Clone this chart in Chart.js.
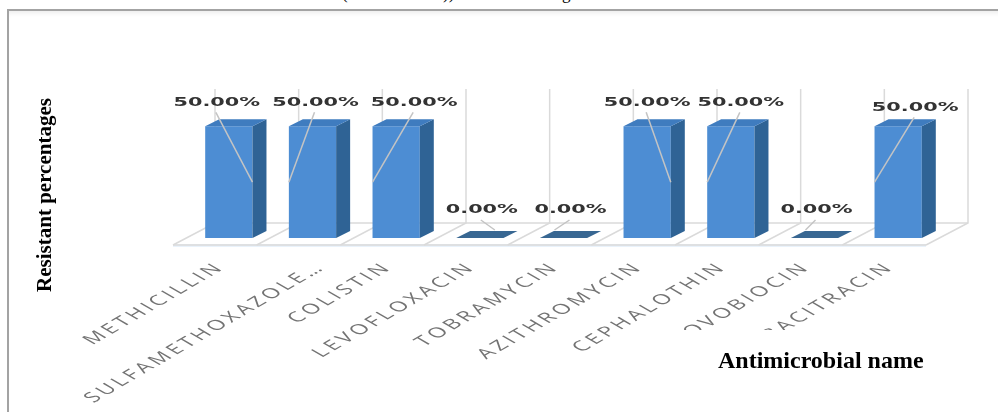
<!DOCTYPE html>
<html>
<head>
<meta charset="utf-8">
<script src="https://cdn.jsdelivr.net/npm/chart.js@4.4.0/dist/chart.umd.min.js"></script>
<style>
  html, body { margin: 0; padding: 0; background: #fff; overflow: hidden; }
  #page { position: relative; width: 998px; height: 412px; overflow: hidden; }
  #frame {
    position: absolute; left: 7px; top: 9px; width: 1100px; height: 500px;
    border-left: 2px solid #a3a3a3; border-top: 2px solid #a3a3a3;
    box-shadow: inset 0 5px 5px -3px #ececec;
  }
  .above { position: absolute; top: -15px; font: 17px "Liberation Serif"; line-height: 17px; color: #000; }
  canvas { position: absolute; left: 0; top: 0; }
</style>
</head>
<body>
<div id="page">
  <span class="above" style="left:342px">(</span>
  <span class="above" style="left:443px">))</span>
  <span class="above" style="left:562px">g</span>
  <div id="frame"></div>
  <canvas id="chart" width="998" height="412"></canvas>
</div>
<script>
const categories = ['METHICILLIN', 'SULFAMETHOXAZOLE…', 'COLISTIN', 'LEVOFLOXACIN', 'TOBRAMYCIN',
    'AZITHROMYCIN', 'CEPHALOTHIN', 'NOVOBIOCIN', 'BACITRACIN'];
const resistant = [50, 50, 50, 0, 0, 50, 50, 0, 50];
const yTitle = 'Resistant percentages';
const xTitle = 'Antimicrobial name';

// data labels were dragged around by hand, so keep their offsets here
const labelShift = [-12, 3, 18, 2, 7, 0, 10, 2, 17];
const labelLift = [0, 0, 0, 4, 4, 0, 0, 4, -5];
const leaderSide = [1, -1, -1, 1, -1, 1, -1, -1, -1];
const tickShift = [0, 17, 0, 0, 0, 0, 0, 0, 0];

const barDepth = { x: 14, y: -7 };
const wallDepth = { x: 28, y: -15 };
const stretch = 1.72;

const fake3d = {
    id: 'fake3d',
    beforeDatasetsDraw(chart) {
        const { ctx, chartArea: a, scales: { y } } = chart;
        const n = categories.length;
        const step = (a.right - a.left) / n;
        const base = y.getPixelForValue(0);
        const top = y.getPixelForValue(y.max);
        const fx = -barDepth.x, fy = -barDepth.y;

        ctx.save();
        // floor front strip
        ctx.fillStyle = '#e9f2fb';
        ctx.fillRect(a.left + fx, base + fy - 1, a.right - a.left, 3);

        ctx.strokeStyle = '#dadada';
        ctx.lineWidth = 1.5;
        for (let i = 0; i <= n; i++) {
            let bx = a.left + i * step;
            ctx.beginPath();
            ctx.moveTo(bx + fx, base + fy);
            ctx.lineTo(bx + wallDepth.x, base + wallDepth.y);
            ctx.lineTo(bx + wallDepth.x, top + wallDepth.y);
            ctx.stroke();
        }
        ctx.beginPath();
        ctx.moveTo(a.left + fx, base + fy);
        ctx.lineTo(a.right + fx, base + fy);
        ctx.moveTo(a.left + wallDepth.x, base + wallDepth.y);
        ctx.lineTo(a.right + wallDepth.x, base + wallDepth.y);
        ctx.stroke();
        ctx.restore();
    },
    afterDatasetsDraw(chart) {
        const { ctx } = chart;
        const meta = chart.getDatasetMeta(0);
        ctx.save();
        meta.data.forEach((bar, i) => {
            let w = bar.width;
            let l = bar.x - w / 2, r = bar.x + w / 2;
            let t = bar.y, b = bar.base;
            // side face
            if (resistant[i] > 0) {
                ctx.fillStyle = '#2f6395';
                ctx.beginPath();
                ctx.moveTo(r, t);
                ctx.lineTo(r + barDepth.x, t + barDepth.y);
                ctx.lineTo(r + barDepth.x, b + barDepth.y);
                ctx.lineTo(r, b);
                ctx.closePath();
                ctx.fill();
            }
            // top face
            ctx.fillStyle = resistant[i] > 0 ? '#3f7cbf' : '#386792';
            ctx.beginPath();
            ctx.moveTo(l, t);
            ctx.lineTo(l + barDepth.x, t + barDepth.y);
            ctx.lineTo(r + barDepth.x, t + barDepth.y);
            ctx.lineTo(r, t);
            ctx.closePath();
            ctx.fill();
        });

        // leader lines and value labels
        ctx.font = 'bold 13px "DejaVu Sans"';
        ctx.textAlign = 'center';
        ctx.textBaseline = 'middle';
        meta.data.forEach((bar, i) => {
            let lx = bar.x + labelShift[i];
            let ly = bar.y - 24 - labelLift[i];
            let ex, ey;
            if (resistant[i] > 0) {
                ex = bar.x + leaderSide[i] * bar.width / 2;
                ey = (bar.y + bar.base) / 2;
            } else {
                ex = bar.x + leaderSide[i] * 12 + 3;
                ey = bar.base - 8;
            }
            ctx.strokeStyle = '#c4c4c4';
            ctx.lineWidth = 1.5;
            ctx.beginPath();
            ctx.moveTo(lx - 1, ly + 10);
            ctx.lineTo(ex, ey);
            ctx.stroke();

            ctx.save();
            ctx.translate(lx, ly);
            ctx.scale(1.6, 1);
            ctx.fillStyle = '#333';
            ctx.fillText(resistant[i].toFixed(2) + '%', 0, 0);
            ctx.restore();
        });
        ctx.restore();
    },
    afterDraw(chart) {
        const { ctx, scales: { x, y } } = chart;
        const base = y.getPixelForValue(0);
        ctx.save();
        // category names, slanted
        ctx.font = '14px "Open Sans"';
        ctx.letterSpacing = '2.3px';
        ctx.fillStyle = '#737373';
        ctx.textAlign = 'right';
        ctx.textBaseline = 'middle';
        categories.forEach((name, i) => {
            ctx.save();
            ctx.translate(x.getPixelForValue(i) - 8 + tickShift[i], base + 27);
            ctx.scale(stretch, 1);
            ctx.rotate(-Math.PI / 4);
            ctx.fillText(name, 0, 0);
            ctx.restore();
        });
        ctx.letterSpacing = '0px';

        // x title sits in its own white box
        ctx.fillStyle = '#fff';
        ctx.fillRect(630, 330, 360, 75);
        ctx.fillStyle = '#000';
        ctx.font = 'bold 24px "Liberation Serif"';
        ctx.textAlign = 'left';
        ctx.textBaseline = 'alphabetic';
        ctx.fillText(xTitle, 718, 368);

        ctx.translate(46, 195);
        ctx.rotate(-Math.PI / 2);
        ctx.font = 'bold 21px "Liberation Serif"';
        ctx.textAlign = 'center';
        ctx.textBaseline = 'middle';
        ctx.fillText(yTitle, 0, 0);
        ctx.restore();
    }
};

new Chart(document.getElementById('chart'), {
    type: 'bar',
    data: {
        labels: categories,
        datasets: [{
            data: resistant,
            backgroundColor: '#4d8dd3',
            borderWidth: 0,
            categoryPercentage: 1,
            barPercentage: 0.565
        }]
    },
    options: {
        responsive: false,
        animation: false,
        devicePixelRatio: 1,
        layout: { padding: { left: 187, right: 58, top: 104, bottom: 174 } },
        plugins: { legend: { display: false }, tooltip: { enabled: false } },
        scales: {
            x: { display: false },
            y: { display: false, min: 0, max: 60 }
        }
    },
    plugins: [fake3d]
});
</script>
</body>
</html>
